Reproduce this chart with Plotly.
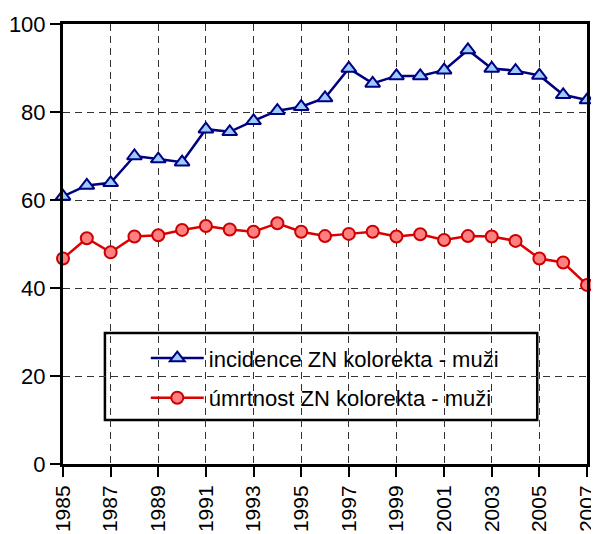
import plotly.graph_objects as go

years = list(range(1985, 2008))
incidence = [60.8, 63.3, 63.9, 70.0, 69.3, 68.6, 76.1, 75.5, 78.0, 80.3, 81.2, 83.2,
             89.9, 86.5, 88.2, 88.2, 89.5, 94.1, 89.9, 89.4, 88.3, 83.9, 82.7]
mortality = [46.7, 51.3, 48.1, 51.7, 52.0, 53.2, 54.1, 53.3, 52.8, 54.7, 52.8, 51.8,
             52.3, 52.8, 51.7, 52.2, 50.9, 51.8, 51.7, 50.7, 46.7, 45.8, 40.7]

fig = go.Figure()
fig.add_trace(go.Scatter(
    x=years, y=incidence, mode="lines+markers",
    name="incidence ZN kolorekta - muži", legendgroup="a",
    line=dict(color="#000080", width=2.5),
    marker=dict(symbol="triangle-up", size=13, color="#99ccff",
                line=dict(color="#000080", width=2)),
    cliponaxis=False,
))
fig.add_trace(go.Scatter(
    x=years, y=mortality, mode="lines+markers",
    name="úmrtnost ZN kolorekta - muži", legendgroup="b",
    line=dict(color="#dd0000", width=2.5),
    marker=dict(symbol="circle", size=12, color="#ff8080",
                line=dict(color="#cc0000", width=2)),
    cliponaxis=False,
))

# legend frame drawn as a shape so it can be wider than the legend itself
fig.add_shape(type="rect", xref="paper", yref="paper",
              x0=0.080, x1=0.905, y0=0.100, y1=0.298,
              line=dict(color="black", width=2.5), fillcolor="white",
              layer="between")

# page body has an 8px margin, so the figure is a bit smaller than the window
fig.update_layout(
    width=591, height=526,
    margin=dict(l=55, r=12, t=16, b=70),
    paper_bgcolor="white", plot_bgcolor="white",
    font=dict(family="Liberation Sans, Arial", size=22, color="black"),
    showlegend=True,
    legend=dict(x=0.158, y=0.288, xanchor="left", yanchor="top",
                borderwidth=0, bgcolor="rgba(0,0,0,0)",
                font=dict(size=22), itemwidth=53,
                tracegroupgap=8, traceorder="grouped"),
)
fig.update_xaxes(
    range=[1985, 2007], tickmode="linear", tick0=1985, dtick=2,
    tickangle=-90, ticks="outside", ticklen=10, tickwidth=2, tickcolor="black",
    tickfont=dict(size=21),
    showgrid=True, gridcolor="#333333", griddash="7px,5px", gridwidth=1,
    showline=True, linecolor="black", linewidth=3, mirror=True,
    zeroline=False, automargin=False,
)
fig.update_yaxes(
    range=[0, 100], tickmode="linear", tick0=0, dtick=20,
    ticks="outside", ticklen=10, tickwidth=2, tickcolor="black",
    showgrid=True, gridcolor="#333333", griddash="7px,5px", gridwidth=1,
    showline=True, linecolor="black", linewidth=3, mirror=True,
    zeroline=False, automargin=False,
)

fig.write_html("out.html")
